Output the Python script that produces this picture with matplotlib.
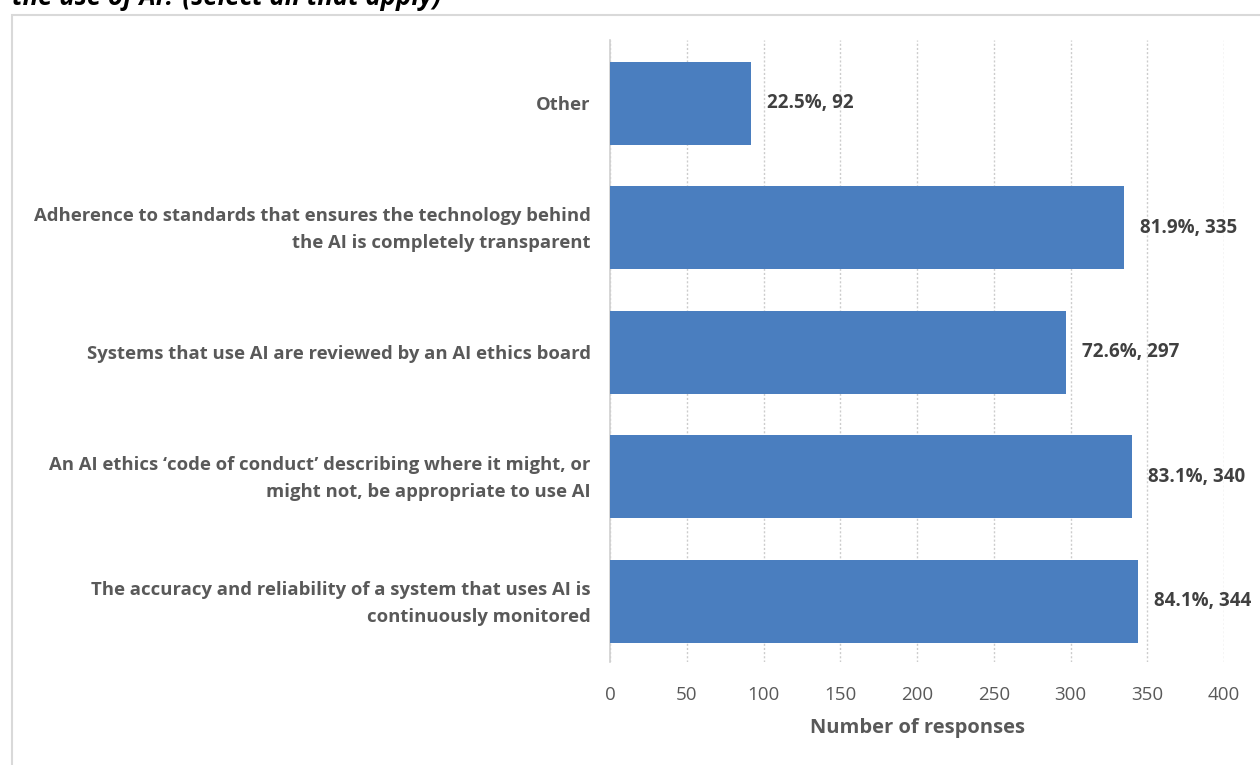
import matplotlib
matplotlib.use('Agg')
from matplotlib import pyplot as plt
from matplotlib.patches import Rectangle
from matplotlib.transforms import ScaledTranslation

categories = [
    'The accuracy and reliability of a system that uses AI is\ncontinuously monitored',
    'An AI ethics \u2018code of conduct\u2019 describing where it might, or\nmight not, be appropriate to use AI',
    'Systems that use AI are reviewed by an AI ethics board',
    'Adherence to standards that ensures the technology behind\nthe AI is completely transparent',
    'Other',
]
counts = [344, 340, 297, 335, 92]
percents = [84.1, 83.1, 72.6, 81.9, 22.5]
xticks = [0, 50, 100, 150, 200, 250, 300, 350, 400]

plt.rcParams['font.family'] = ['Open Sans', 'DejaVu Sans']

fig = plt.figure(figsize=(12.6, 7.65), dpi=100)
ax = fig.add_axes([610/1260, 1 - 662/765, 614/1260, 622/765])

bar_color = '#4a7ebf'
ypos = list(range(len(categories)))
ax.barh(ypos, counts, height=0.667, color=bar_color, zorder=3)

for y, c, p in zip(ypos, counts, percents):
    ax.text(c + 10.5, y, '%.1f%%, %d' % (p, c), va='center', ha='left',
            fontsize=13.5, fontweight='bold', color='#404040', zorder=4)

ax.set_xlim(0, 400)
ax.set_ylim(-0.49, 4.51)
ax.set_xticks(xticks)
ax.set_xticklabels([str(t) for t in xticks], fontsize=13.5, color='#595959')
ax.set_yticks(ypos)
ax.set_yticklabels(categories, fontsize=13.3, fontweight='bold', color='#595959',
                   linespacing=1.65)
ax.tick_params(axis='x', length=0, pad=17)
ax.tick_params(axis='y', length=0, pad=14)

# two-line labels sit a little high, centred on the bar
lift = ScaledTranslation(0, 4.5/100, fig.dpi_scale_trans)
for lab in ax.get_yticklabels():
    if '\n' in lab.get_text():
        lab.set_transform(lab.get_transform() + lift)

ax.grid(axis='x', color='#cccccc', linestyle=(0, (1.5, 1.5)), linewidth=1.0, zorder=0)

for side in ['top', 'right', 'bottom']:
    ax.spines[side].set_visible(False)
ax.spines['left'].set_color('#d0d0d0')
ax.spines['left'].set_linewidth(1.2)

ax.set_xlabel('Number of responses', fontsize=14.5, fontweight='bold', color='#595959',
              labelpad=10)

# outer frame of the chart box
fig.patches.append(Rectangle((12/1260, -0.1), 1.2, (765 - 15)/765 + 0.1,
                             transform=fig.transFigure, fill=False,
                             edgecolor='#d9d9d9', linewidth=1.5))

# heading running off the top edge
fig.text(12/1260, 1 - 5/765, 'the use of AI? (select all that apply)', ha='left', va='baseline',
         fontsize=18.5, fontweight='bold', fontstyle='italic', color='black')

fig.savefig('out.png', dpi=100)
